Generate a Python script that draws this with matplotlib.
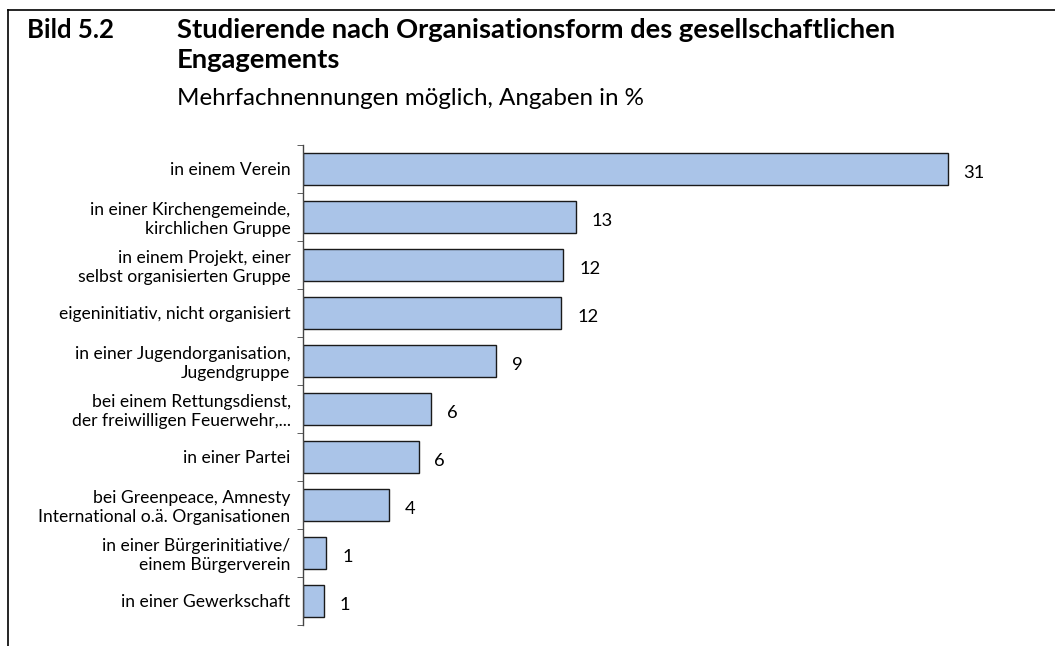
import matplotlib.pyplot as plt
from matplotlib.lines import Line2D
import numpy as np

plt.rcParams['font.family'] = ['Lato', 'DejaVu Sans']

# categories from top to bottom
categories = [
    "in einem Verein",
    "in einer Kirchengemeinde,\nkirchlichen Gruppe",
    "in einem Projekt, einer\nselbst organisierten Gruppe",
    "eigeninitiativ, nicht organisiert",
    "in einer Jugendorganisation,\nJugendgruppe",
    "bei einem Rettungsdienst,\nder freiwilligen Feuerwehr,...",
    "in einer Partei",
    "bei Greenpeace, Amnesty\nInternational o.ä. Organisationen",
    "in einer Bürgerinitiative/\neinem Bürgerverein",
    "in einer Gewerkschaft",
]
# bar lengths (unrounded) and printed labels
values = [30.7, 13.0, 12.4, 12.3, 9.2, 6.1, 5.5, 4.1, 1.1, 1.0]
labels = [31, 13, 12, 12, 9, 6, 6, 4, 1, 1]

W, H = 1055, 646
fig = plt.figure(figsize=(W / 100, H / 100), dpi=100)

# frame (top and left edge only visible)
fig.add_artist(Line2D([7.5 / W, 1], [1 - 10 / H, 1 - 10 / H], color='black', lw=1.2))
fig.add_artist(Line2D([7.5 / W, 7.5 / W], [0, 1 - 10 / H], color='black', lw=1.2))

# titles
fig.text(27 / W, 1 - 38 / H, "Bild 5.2", fontsize=18.5, fontweight='bold', va='baseline')
fig.text(177 / W, 1 - 38 / H, "Studierende nach Organisationsform des gesellschaftlichen",
         fontsize=19.7, fontweight='bold', va='baseline')
fig.text(177 / W, 1 - 68 / H, "Engagements", fontsize=19.7, fontweight='bold', va='baseline')
fig.text(177 / W, 1 - 105 / H, "Mehrfachnennungen möglich, Angaben in %", fontsize=17.4,
         va='baseline')

left, right = 303 / W, 996 / W
bottom, top = 1 - 625 / H, 1 - 145 / H
ax = fig.add_axes([left, bottom, right - left, top - bottom])

y = np.arange(len(categories))
ax.barh(y, values, height=0.667, color='#aac4e8', edgecolor='#1a1a1a', linewidth=1)

for yi, v, lab in zip(y, values, labels):
    ax.annotate(str(lab), (v, yi), xytext=(11.5, -3), textcoords='offset points',
                ha='left', va='center', fontsize=13.2)

ax.set_xlim(0, 33)
ax.set_ylim(len(categories) - 0.5, -0.5)

ax.set_yticks(y)
ax.set_yticklabels(categories, fontsize=12.6, linespacing=1.18)
ax.set_yticks(np.arange(-0.5, len(categories)), minor=True)
ax.tick_params(axis='y', which='major', length=0, pad=9)
ax.tick_params(axis='y', which='minor', length=4, direction='out', color='#444444')
ax.set_xticks([])

for s in ['top', 'right', 'bottom']:
    ax.spines[s].set_visible(False)
ax.spines['left'].set_color('#444444')
ax.spines['left'].set_linewidth(1)

fig.savefig('out.png', dpi=100)
